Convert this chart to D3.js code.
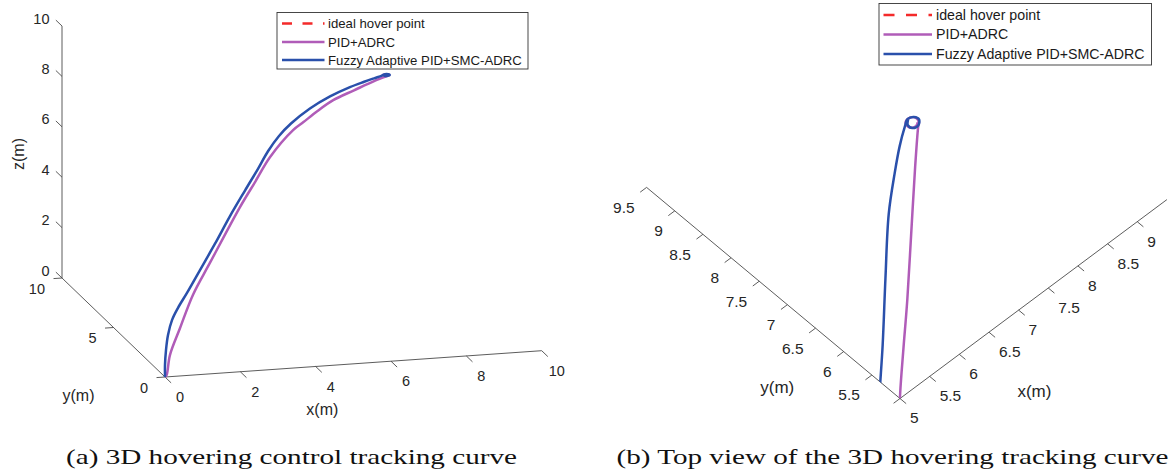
<!DOCTYPE html>
<html><head><meta charset="utf-8">
<script src="https://cdn.jsdelivr.net/npm/d3@7"></script>
<style>body{margin:0;background:#fff}svg{display:block}</style>
</head><body>
<svg id="c" width="1169" height="474"></svg>
<script>
// ---------- data ----------
const legendLabels = ["ideal hover point", "PID+ADRC", "Fuzzy Adaptive PID+SMC-ADRC"];
const captions = ["(a) 3D hovering control tracking curve", "(b) Top view of the 3D hovering tracking curve"];

// PID+ADRC trajectory (m)
const pidX = [0, 0.06, 0.18, 0.55, 1.02, 1.64, 2.74, 3.29, 3.84, 4.68, 5.06, 5.55, 6.12, 6.87, 7.61, 8.07, 8.12, 8.14, 8.07, 7.99, 7.98, 8.05, 8.11];
const pidY = [0, 0.06, 0.18, 0.55, 1.02, 1.64, 2.74, 3.29, 3.84, 4.68, 5.06, 5.52, 6.05, 6.77, 7.48, 7.91, 7.95, 8.03, 8.08, 8.05, 7.97, 7.93, 7.96];
const pidZ = [0, 0.05, 0.78, 1.67, 2.75, 3.71, 5.38, 6.10, 6.82, 7.47, 7.60, 7.80, 7.97, 8.00, 8.02, 8.00, 8.00, 8.00, 8.00, 8.00, 8.00, 8.00, 8.00];

// Fuzzy Adaptive PID+SMC-ADRC trajectory (m)
const fuzX = [0, 0, 0.044, 0.125, 0.282, 0.513, 0.86, 1.354, 1.925, 2.488, 3.043, 3.522, 3.891, 4.297, 4.739, 5.42, 6.15, 6.87, 7.36, 7.69, 7.95, 8.05, 8.13, 8.15, 8.08, 8.00, 7.99, 8.05];
const fuzY = [0, 0, 0.064, 0.165, 0.352, 0.613, 1.01, 1.554, 2.185, 2.788, 3.363, 3.852, 4.231, 4.647, 5.099, 5.75, 6.47, 7.17, 7.58, 7.84, 8.02, 8.08, 8.05, 7.98, 7.92, 7.94, 8.01, 8.07];
const fuzZ = [0, 0.48, 1.04, 1.59, 2.09, 2.45, 2.85, 3.49, 4.23, 5.03, 5.76, 6.38, 6.89, 7.29, 7.56, 7.83, 7.95, 7.97, 7.97, 7.97, 7.98, 8.00, 8.00, 8.00, 8.00, 8.00, 8.00, 8.00];

const leftXTicks = [0, 2, 4, 6, 8, 10];
const leftYTicks = [0, 5, 10];
const leftZTicks = [0, 2, 4, 6, 8, 10];
const rightXTicks = [5, 5.5, 6, 6.5, 7, 7.5, 8, 8.5, 9];
const rightXLabels = ["5", "5.5", "6", "6.5", "7", "7.5", "8", "8.5", "9"];
const rightYTicks = [5, 5.5, 6, 6.5, 7, 7.5, 8, 8.5, 9, 9.5];
const rightYLabels = ["", "5.5", "6", "6.5", "7", "7.5", "8", "8.5", "9", "9.5"];

// ---------- style ----------
const COL = {red: "#f42a2a", pid: "#b05cb8", fuz: "#2a50ab", axis: "#4a4a4a", text: "#262626"};
const FONT = "'Liberation Sans', Arial, sans-serif";

const svg = d3.select("#c");

function makeProj(origin, ex, ey, ez, dx, dy, dz) {
  const sx = d3.scaleLinear().domain(dx).range([0, 1]);
  const sy = d3.scaleLinear().domain(dy).range([0, 1]);
  const sz = d3.scaleLinear().domain(dz).range([0, 1]);
  return (x, y, z) => [
    origin[0] + sx(x) * ex[0] + sy(y) * ey[0] + sz(z) * ez[0],
    origin[1] + sx(x) * ex[1] + sy(y) * ey[1] + sz(z) * ez[1]
  ];
}
function unit(v, len) { const n = Math.hypot(v[0], v[1]); return [v[0] / n * len, v[1] / n * len]; }

function drawAxis(g, p0, p1) {
  g.append("line").attr("x1", p0[0]).attr("y1", p0[1]).attr("x2", p1[0]).attr("y2", p1[1])
    .attr("stroke", COL.axis).attr("stroke-width", 0.9);
}
function drawTicks(g, vals, labels, pos, dir, off, anchor, fs) {
  vals.forEach((v, i) => {
    const p = pos(v);
    g.append("line").attr("x1", p[0]).attr("y1", p[1]).attr("x2", p[0] + dir[0]).attr("y2", p[1] + dir[1])
      .attr("stroke", COL.axis).attr("stroke-width", 0.9);
    if (labels[i] !== "") g.append("text").attr("x", p[0] + off[0]).attr("y", p[1] + off[1]).attr("dy", "0.35em")
      .attr("text-anchor", anchor).attr("font-family", FONT).attr("font-size", fs).attr("fill", COL.text).text(labels[i]);
  });
}
function label(g, x, y, t, fs, rot) {
  const e = g.append("text").attr("x", x).attr("y", y).attr("dy", "0.35em").attr("text-anchor", "middle")
    .attr("font-family", FONT).attr("font-size", fs).attr("fill", COL.text).text(t);
  if (rot) e.attr("transform", `rotate(${rot},${x},${y})`);
}
function legend(g, x, y, w, h, rows, sx1, sx2, tx, fs, dash) {
  g.append("rect").attr("x", x).attr("y", y).attr("width", w).attr("height", h)
    .attr("fill", "#fff").attr("stroke", "#333").attr("stroke-width", 0.9);
  const cols = [COL.red, COL.pid, COL.fuz];
  legendLabels.forEach((t, i) => {
    const l = g.append("line").attr("x1", sx1).attr("x2", sx2).attr("y1", rows[i]).attr("y2", rows[i])
      .attr("stroke", cols[i]).attr("stroke-width", 2.6);
    if (i === 0) l.attr("stroke-dasharray", dash);
    g.append("text").attr("x", tx).attr("y", rows[i]).attr("dy", "0.35em").attr("font-family", FONT)
      .attr("font-size", fs).attr("fill", "#1a1a1a").text(t);
  });
}
const lineGen = d3.line().curve(d3.curveCatmullRom.alpha(0.5));

// ---------- left panel (3D view) ----------
{
  const g = svg.append("g");
  const P = makeProj([165, 377], [376.7, -26.3], [-103, -99], [0, -252], [0, 10], [0, 10], [0, 10]);
  const ex = [376.7, -26.3], ey = [-103, -99];
  drawAxis(g, P(0, 0, 0), P(10, 0, 0));
  drawAxis(g, P(0, 0, 0), P(0, 10, 0));
  drawAxis(g, P(0, 10, 0), P(0, 10, 10));
  drawTicks(g, leftXTicks, leftXTicks.map(String), v => P(v, 0, 0), unit([-ey[0], -ey[1]], 8.5), [15, 20], "middle", 14.5);
  drawTicks(g, leftYTicks, leftYTicks.map(String), v => P(0, v, 0), unit([-ex[0], -ex[1]], 8.5), [-17, 10.5], "end", 14.5);
  drawTicks(g, leftZTicks, leftZTicks.map(String), v => P(0, 10, v), unit(ey, 8.5), [-12.5, -7.5], "end", 14.5);
  const xm = P(5, 0, 0), ym = P(0, 5, 0), zm = P(0, 10, 5);
  label(g, xm[0] - 31, xm[1] + 46, "x(m)", 16);
  label(g, ym[0] - 35, ym[1] + 68, "y(m)", 16);
  label(g, zm[0] - 44, zm[1] + 2, "z(m)", 16, -90);
  const pid = pidX.map((x, i) => P(x, pidY[i], pidZ[i]));
  const fuz = fuzX.map((x, i) => P(x, fuzY[i], fuzZ[i]));
  g.append("path").attr("d", lineGen(pid)).attr("fill", "none").attr("stroke", COL.pid).attr("stroke-width", 2.5);
  g.append("path").attr("d", lineGen(fuz)).attr("fill", "none").attr("stroke", COL.fuz).attr("stroke-width", 2.5);
  legend(g, 277, 12.5, 251, 56.5, [23.5, 42, 60], 282, 324.5, 328, 13.2, "10,10.5");
}

// ---------- right panel (top view) ----------
{
  const g = svg.append("g");
  const ex = [266.9, -198.9], ey = [-253.4, -211.1];
  const P = makeProj([900, 398.5], ex, ey, [0, 0], [5, 9.5], [5, 9.5], [0, 10]);
  drawAxis(g, P(5, 5, 0), P(9.5, 5, 0));
  drawAxis(g, P(5, 5, 0), P(5, 9.5, 0));
  drawTicks(g, rightXTicks, rightXLabels, v => P(v, 5, 0), unit([-ey[0], -ey[1]], 8), [10, 19.5], "start", 15.5);
  drawTicks(g, rightYTicks, rightYLabels, v => P(5, v, 0), unit([-ex[0], -ex[1]], 8), [-12, 20], "end", 15.5);
  const xm = P(7.25, 5, 0), ym = P(5, 7.25, 0);
  label(g, xm[0] + 1, xm[1] + 92, "x(m)", 17);
  label(g, ym[0] + 4, ym[1] + 94, "y(m)", 17);
  const corners = [P(5, 5, 0), P(9.5, 5, 0), P(9.5, 9.5, 0), P(5, 9.5, 0)];
  svg.append("defs").append("clipPath").attr("id", "clipR").append("polygon")
    .attr("points", corners.map(c => c.join(",")).join(" "));
  const cg = g.append("g").attr("clip-path", "url(#clipR)");
  const pid = pidX.map((x, i) => P(x, pidY[i], 0));
  const fuz = fuzX.map((x, i) => P(x, fuzY[i], 0));
  cg.append("path").attr("d", lineGen(pid)).attr("fill", "none").attr("stroke", COL.pid).attr("stroke-width", 2.5);
  cg.append("path").attr("d", lineGen(fuz)).attr("fill", "none").attr("stroke", COL.fuz).attr("stroke-width", 2.5);
  legend(g, 879, 3.5, 272.5, 61.5, [15, 34.5, 54], 883.5, 932, 936, 14.2, "11,11.5");
}

// ---------- captions ----------
const capX = [66, 616.5], capW = [451, 552];
captions.forEach((t, i) => {
  svg.append("text").attr("x", capX[i]).attr("y", 464).attr("font-family", "'Liberation Serif', 'DejaVu Serif', serif")
    .attr("font-size", 21).attr("fill", "#111").attr("textLength", capW[i]).attr("lengthAdjust", "spacingAndGlyphs").text(t);
});
</script>
</body></html>
